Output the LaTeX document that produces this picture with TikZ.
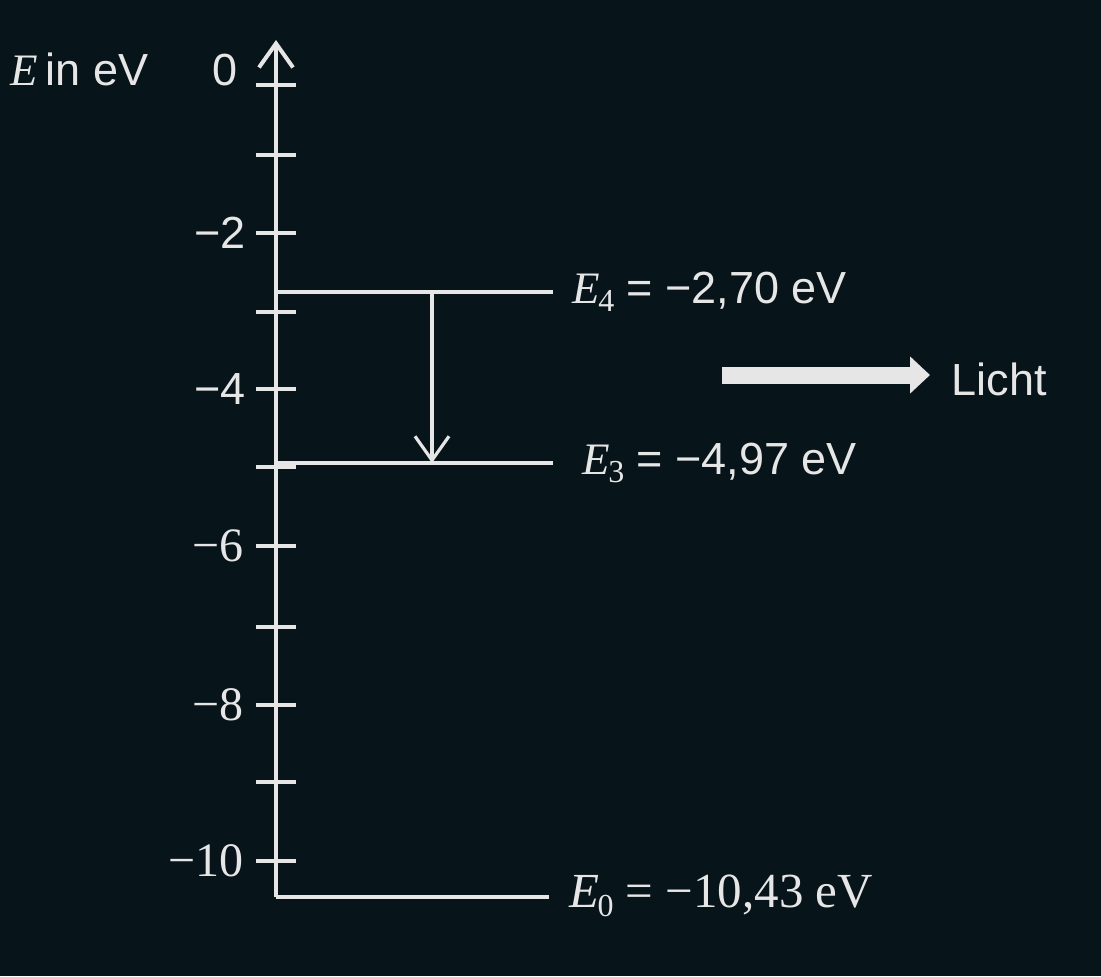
\documentclass[tikz,border=0pt]{standalone}
\usepackage{fontspec}
\setmainfont{Liberation Serif}
\newfontfamily\sansf{Liberation Sans}
\usetikzlibrary{arrows.meta}
\definecolor{bg}{HTML}{07141A}
\definecolor{fg}{HTML}{E6E6E6}
\newcommand{\lev}[1]{\textit{E}\kern-0.04em\raisebox{-0.4ex}{\fontsize{16}{16}\selectfont #1}}
\begin{document}
\begin{tikzpicture}[x=0.5pt,y=-0.5pt,fg,line width=2pt,
    every node/.style={text=fg,font=\fontsize{22.5}{27}\selectfont},
    tip/.style={-{Straight Barb[length=12pt,width=17pt]}}]
  \fill[bg] (0,0) rectangle (1101,976);
  \useasboundingbox (0,0) rectangle (1101,976);
  % energy axis
  \coordinate (corner) at (276,897);
  \coordinate (top) at (276,40);
  \draw[tip] (corner) -- (top);
  \foreach \y in {85,155,233,312,389,467,546,627,705,782,861}
    \draw (256,\y) -- (296,\y);
  \node[anchor=base east,font=\fontsize{22.5}{27}\sansf] (t0) at (246,85) {0};
  \node[anchor=east,font=\fontsize{22.5}{27}\sansf] (t2) at (254,233) {−2};
  \node[anchor=east,font=\fontsize{22.5}{27}\sansf] (t4) at (254,389) {−4};
  \node[anchor=east,font=\fontsize{24}{28}\selectfont] (t6) at (252,546) {−6};
  \node[anchor=east,font=\fontsize{24}{28}\selectfont] (t8) at (252,705) {−8};
  \node[anchor=east,font=\fontsize{24}{28}\selectfont] (t10) at (252,861) {−10};
  \node[anchor=base west] (elabel) at (2,85) {\textit{E}\,{\sansf in eV}};
  % levels
  \coordinate (e4) at (276,292);
  \coordinate (e3) at (276,463);
  \coordinate (e0) at (corner);
  \node[anchor=west] (l4) at (564,292) {\lev{4}{\sansf\ = −2,70 eV}};
  \node[anchor=west] (l3) at (574,463) {\lev{3}{\sansf\ = −4,97 eV}};
  \node[anchor=west,font=\fontsize{24.5}{28}\selectfont] (l0) at (561,896) {\lev{0} = −10,43 eV};
  \draw (e4) -- ([xshift=-5.5pt]e4 -| l4.west);
  \draw (e3) -- ([xshift=-10.5pt]e3 -| l3.west);
  \draw (e0) -- ([xshift=-6pt]e0 -| l0.west);
  % transition
  \coordinate (a4) at (432,292);
  \coordinate (a3) at (432,463);
  \draw[tip,line width=1.6pt] (a4) -- (a3);
  % light
  \node[anchor=base west,font=\fontsize{22.5}{27}\sansf] (licht) at (943,395) {Licht};
  \coordinate (ls) at (722,375);
  \draw[line width=8.5pt,-{Triangle[length=10pt,width=18pt]},shorten >=6.5pt] (ls) -- (ls -| licht.west);
\end{tikzpicture}
\end{document}
